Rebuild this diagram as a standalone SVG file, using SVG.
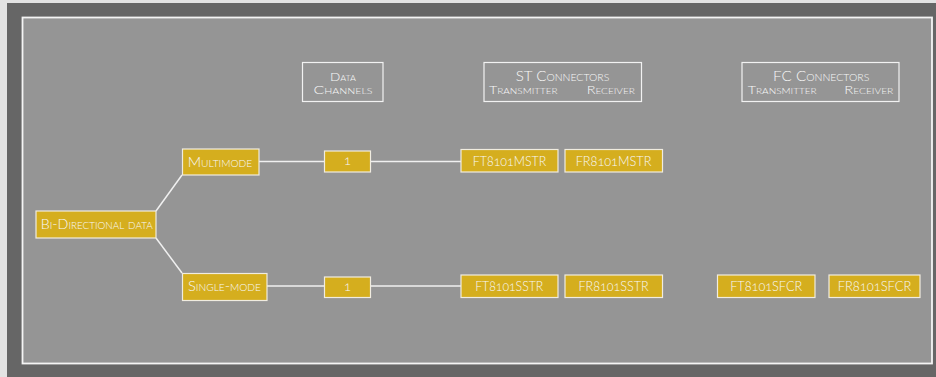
<svg xmlns="http://www.w3.org/2000/svg" width="936" height="377" viewBox="0 0 936 377">
<style>
.n rect{fill:#d5ae1e;stroke:#f0ece0;stroke-width:1.2}
.h rect{fill:none;stroke:#f2f2f2;stroke-width:1.2}
text{font-family:Lato,"Open Sans","Liberation Sans",sans-serif;font-weight:300;fill:#f8f8f8;text-anchor:middle;font-feature-settings:"onum"}
.sc{font-variant:small-caps}
.c line{stroke:#f0f0f0;stroke-width:1.5}
</style>
<rect x="0" y="0" width="936" height="377" fill="#e3e3e3"/>
<rect x="7" y="3" width="929" height="374" fill="#666666"/>
<rect x="22.5" y="17.5" width="909.5" height="346" fill="#959595" stroke="#f4f4f4" stroke-width="1.8"/>
<g class="c" id="connectors">
<line x1="156" y1="211" x2="182" y2="175"/>
<line x1="156" y1="238" x2="182" y2="273"/>
<line x1="259" y1="161.5" x2="324" y2="161.5"/>
<line x1="371" y1="161.5" x2="461" y2="161.5"/>
<line x1="267" y1="286" x2="324" y2="286"/>
<line x1="371" y1="286" x2="461" y2="286"/>
</g>
<g class="h" id="hdr-data">
<rect x="302.5" y="62.5" width="80.5" height="39"/>
<text class="sc" x="343" y="80.5" font-size="12" textLength="26" lengthAdjust="spacingAndGlyphs">Data</text>
<text class="sc" x="343" y="94" font-size="12" textLength="59" lengthAdjust="spacingAndGlyphs">Channels</text>
</g>
<g class="h" id="hdr-st">
<rect x="484" y="62.5" width="157.5" height="39"/>
<text class="sc" x="562.5" y="81" font-size="13" textLength="93.6" lengthAdjust="spacingAndGlyphs">ST Connectors</text>
<text class="sc" x="523.3" y="94" font-size="11.5" textLength="68.7" lengthAdjust="spacingAndGlyphs">Transmitter</text>
<text class="sc" x="610.8" y="94" font-size="11.5" textLength="48.3" lengthAdjust="spacingAndGlyphs">Receiver</text>
</g>
<g class="h" id="hdr-fc">
<rect x="742" y="62.5" width="157" height="39"/>
<text class="sc" x="821.2" y="81" font-size="13" textLength="96.3" lengthAdjust="spacingAndGlyphs">FC Connectors</text>
<text class="sc" x="782.2" y="94" font-size="11.5" textLength="69" lengthAdjust="spacingAndGlyphs">Transmitter</text>
<text class="sc" x="868.8" y="94" font-size="11.5" textLength="49" lengthAdjust="spacingAndGlyphs">Receiver</text>
</g>
<g class="n" id="bidir">
<rect x="36" y="211" width="120" height="27"/>
<text class="sc" x="96.7" y="228.7" font-size="13" textLength="112" lengthAdjust="spacingAndGlyphs">Bi-Directional data</text>
</g>
<g class="n" id="multimode">
<rect x="182.5" y="149" width="76.5" height="26"/>
<text class="sc" x="220" y="167" font-size="13" textLength="64.6" lengthAdjust="spacingAndGlyphs">Multimode</text>
</g>
<g class="n" id="singlemode">
<rect x="182.5" y="273.5" width="84.5" height="27"/>
<text class="sc" x="224.5" y="290.7" font-size="13" textLength="73" lengthAdjust="spacingAndGlyphs">Single-mode</text>
</g>
<g class="n" id="ch-m">
<rect x="324.5" y="151" width="46" height="21"/>
<text x="347.5" y="165" font-size="13">1</text>
</g>
<g class="n" id="ch-s">
<rect x="324.5" y="277" width="46" height="20.5"/>
<text x="347.5" y="291" font-size="13">1</text>
</g>
<g class="n" id="ft-mstr">
<rect x="461" y="149.5" width="97" height="22.5"/>
<text x="509.5" y="166" font-size="14" textLength="73.3" lengthAdjust="spacingAndGlyphs">FT8101MSTR</text>
</g>
<g class="n" id="fr-mstr">
<rect x="565" y="149.5" width="97.5" height="22.5"/>
<text x="613.5" y="166" font-size="14" textLength="75.7" lengthAdjust="spacingAndGlyphs">FR8101MSTR</text>
</g>
<g class="n" id="ft-sstr">
<rect x="461" y="275" width="97" height="22.5"/>
<text x="509.2" y="290.7" font-size="14" textLength="68" lengthAdjust="spacingAndGlyphs">FT8101SSTR</text>
</g>
<g class="n" id="fr-sstr">
<rect x="565" y="275" width="97.5" height="22.5"/>
<text x="613.5" y="290.7" font-size="14" textLength="70" lengthAdjust="spacingAndGlyphs">FR8101SSTR</text>
</g>
<g class="n" id="ft-sfcr">
<rect x="717.5" y="275" width="97.5" height="22.5"/>
<text x="766.2" y="290.7" font-size="14" textLength="72" lengthAdjust="spacingAndGlyphs">FT8101SFCR</text>
</g>
<g class="n" id="fr-sfcr">
<rect x="829" y="275" width="91" height="22.5"/>
<text x="874.5" y="290.7" font-size="14" textLength="73.7" lengthAdjust="spacingAndGlyphs">FR8101SFCR</text>
</g>
</svg>
